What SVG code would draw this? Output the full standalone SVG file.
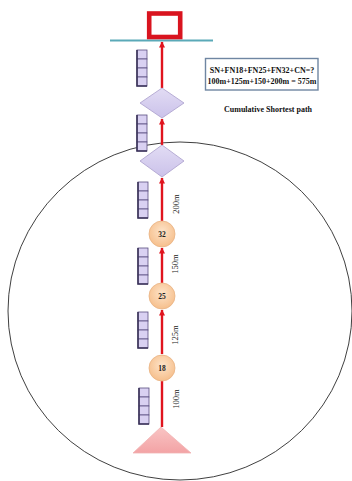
<svg xmlns="http://www.w3.org/2000/svg" width="352" height="481" viewBox="0 0 352 481">
  <defs>
    <radialGradient id="peach" cx="0.5" cy="0.4" r="0.6">
      <stop offset="0" stop-color="#fde3c8"/>
      <stop offset="1" stop-color="#f6bf8c"/>
    </radialGradient>
    <linearGradient id="lav" x1="0" y1="0" x2="0" y2="1">
      <stop offset="0" stop-color="#e2dcf4"/>
      <stop offset="1" stop-color="#cbc2ea"/>
    </linearGradient>
    <linearGradient id="pink" x1="0" y1="0" x2="0" y2="1">
      <stop offset="0" stop-color="#f9c4c4"/>
      <stop offset="1" stop-color="#f3a3a5"/>
    </linearGradient>
    <marker id="arr" viewBox="0 0 10 10" refX="9" refY="5" markerWidth="7" markerHeight="6" orient="auto" markerUnits="userSpaceOnUse">
      <path d="M0,0 L10,5 L0,10 Z" fill="#e0141e"/>
    </marker>
    <g id="stack">
      <rect x="0" y="0" width="10" height="9" class="cell"/>
      <rect x="0" y="9" width="10" height="9" class="cell"/>
      <rect x="0" y="18" width="10" height="9" class="cell"/>
      <rect x="0" y="27" width="10" height="9" class="cell"/>
      <path d="M0,0 V36 H10" fill="none" stroke="#3a3258" stroke-width="1.6"/>
    </g>
  </defs>
  <style>
    .cell { fill: #d9d1f2; stroke: #5a4f80; stroke-width: 0.8; }
    .edge { stroke: #e0141e; stroke-width: 2.4; fill: none; }
    .fn { fill: url(#peach); stroke: #e9b383; stroke-width: 0.8; }
    .fnt { font-family: "Liberation Serif", serif; font-size: 7.5px; font-weight: bold; fill: #222; text-anchor: middle; }
    .dia { fill: url(#lav); stroke: #a99ecb; stroke-width: 0.8; }
    .dist { font-family: "Liberation Serif", serif; font-size: 8.5px; fill: #222; text-anchor: middle; }
    .note { font-family: "Liberation Serif", serif; font-size: 8px; font-weight: bold; fill: #111; text-anchor: middle; }
  </style>

  <rect width="352" height="481" fill="#ffffff"/>

  <!-- coverage boundary -->
  <ellipse cx="180" cy="311" rx="172" ry="169" fill="none" stroke="#2a2a2a" stroke-width="0.9"/>

  <!-- queue stacks beside each hop -->
  <g id="queues">
    <use href="#stack" x="137" y="50"/>
    <use href="#stack" x="137" y="115"/>
    <use href="#stack" x="138" y="182"/>
    <use href="#stack" x="138" y="248"/>
    <use href="#stack" x="138" y="312"/>
    <use href="#stack" x="139" y="388"/>
  </g>

  <!-- connectors -->
  <g id="edges">
    <line class="edge" x1="162" y1="427" x2="162" y2="355" marker-end="url(#arr)"/>
    <line class="edge" x1="162" y1="354" x2="162" y2="310" marker-end="url(#arr)"/>
    <line class="edge" x1="162" y1="283" x2="162" y2="248" marker-end="url(#arr)"/>
    <line class="edge" x1="162" y1="221" x2="162" y2="178" marker-end="url(#arr)"/>
    <line class="edge" x1="162" y1="145" x2="162" y2="119" marker-end="url(#arr)"/>
    <line class="edge" x1="162" y1="88" x2="162" y2="42" marker-end="url(#arr)"/>
    <text class="dist" transform="translate(179,399) rotate(-90)">100m</text>
    <text class="dist" transform="translate(178,335) rotate(-90)">125m</text>
    <text class="dist" transform="translate(178,264) rotate(-90)">150m</text>
    <text class="dist" transform="translate(179,204) rotate(-90)">200m</text>
  </g>

  <!-- sink -->
  <g id="sink">
    <line x1="110" y1="40.5" x2="213" y2="40.5" stroke="#5aa9b8" stroke-width="1.8"/>
    <rect x="149.2" y="13.5" width="31" height="23.5" fill="#ffffff" stroke="#d9141f" stroke-width="4.6"/>
  </g>

  <g id="cn1"><polygon class="dia" points="162,88 184,103 162,118 140,103"/></g>
  <g id="cn2"><polygon class="dia" points="162,145 184,161 162,177 140,161"/></g>

  <g id="fn32"><circle class="fn" cx="162" cy="234" r="13"/><text class="fnt" x="162" y="236.7">32</text></g>
  <g id="fn25"><circle class="fn" cx="162" cy="296" r="13"/><text class="fnt" x="162" y="298.7">25</text></g>
  <g id="fn18"><circle class="fn" cx="162" cy="368" r="13"/><text class="fnt" x="162" y="370.7">18</text></g>

  <g id="sn"><polygon points="161,427 191,453 133,453" fill="url(#pink)" stroke="#f0b4b4" stroke-width="0.8"/></g>

  <!-- path summary -->
  <g id="summary">
    <rect x="205.5" y="58.5" width="112.5" height="31.5" fill="#ffffff" stroke="#6f86a2" stroke-width="1.4"/>
    <text class="note" x="262" y="72.5">SN+FN18+FN25+FN32+CN=?</text>
    <text class="note" x="262" y="84">100m+125m+150+200m = 575m</text>
    <text class="note" x="268" y="112" font-size="7.8">Cumulative Shortest path</text>
  </g>
</svg>
